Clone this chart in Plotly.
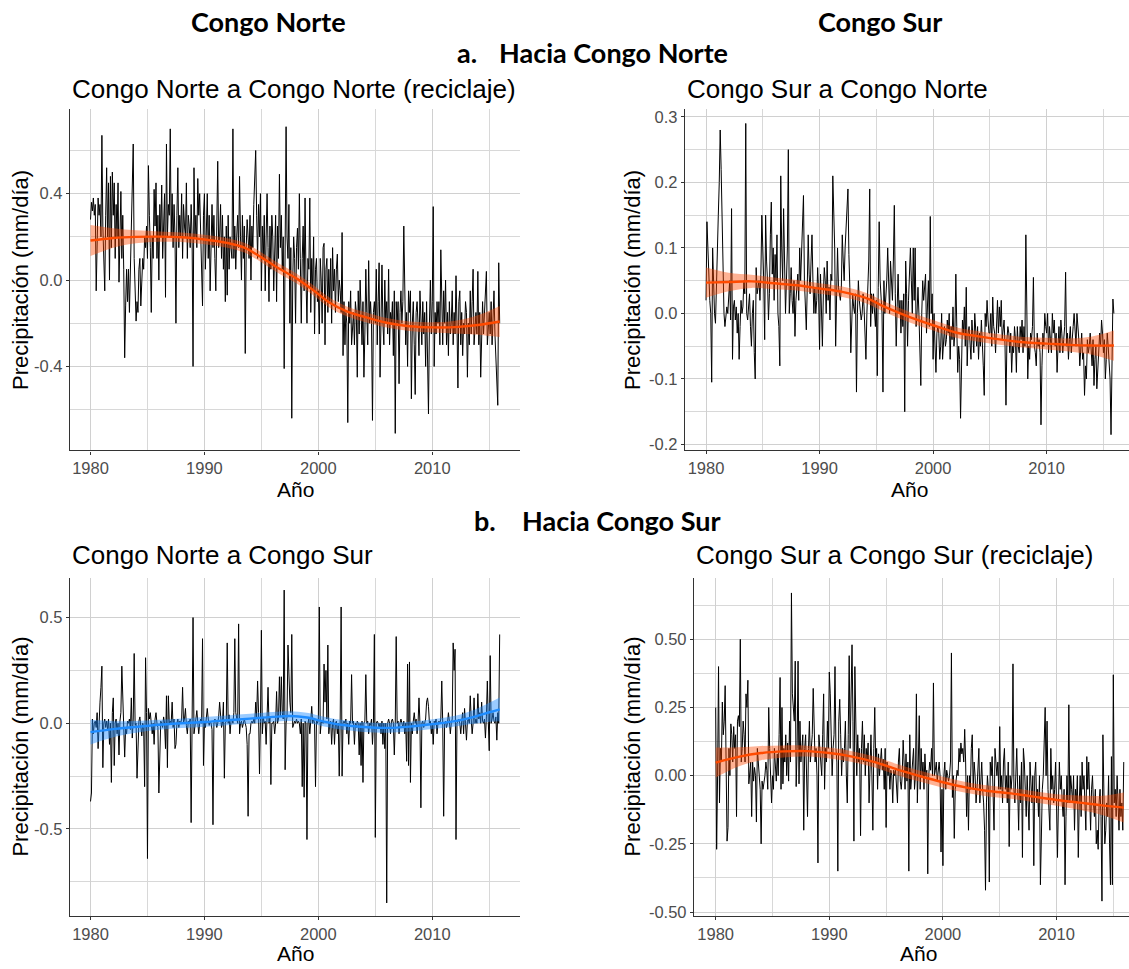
import plotly.graph_objects as go

W, H = 1129, 969

# ------------------------------------------------------------------ data
START_YEAR = 1980   # monthly series, Jan 1980 .. Dec 2015

# Congo Norte -> Congo Norte (reciclaje), mm/día anomalies, one row per year
cn_to_cn = [
    0.28, 0.36, 0.32, 0.38, 0.30, 0.35, -0.05, 0.25, 0.38, 0.30, 0.35, 0.20,
    0.67, 0.25, 0.10, -0.05, 0.30, 0.52, 0.20, 0.45, 0.00, 0.48, 0.15, 0.50,
    0.30, 0.45, 0.10, 0.35, 0.20, 0.45, -0.01, 0.25, 0.41, 0.10, 0.30, 0.05,
    -0.36, -0.12, 0.05, -0.10, 0.05, -0.15, 0.08, 0.20, 0.40, 0.63, 0.10, -0.05,
    -0.19, -0.10, -0.15, 0.05, 0.10, -0.12, 0.00, 0.10, 0.05, 0.20, 0.15, 0.25,
    0.10, 0.53, 0.30, 0.15, -0.15, 0.20, 0.10, 0.42, 0.25, 0.45, 0.10, 0.30,
    0.00, 0.35, 0.20, 0.44, 0.10, 0.30, 0.40, -0.08, 0.63, 0.20, 0.35, 0.30,
    0.70, 0.20, 0.40, 0.15, 0.35, 0.20, -0.20, 0.30, 0.52, 0.15, 0.30, 0.20,
    0.40, 0.10, 0.35, 0.25, 0.20, 0.45, 0.10, 0.30, 0.25, 0.15, 0.35, 0.20,
    -0.40, 0.52, 0.20, 0.30, 0.15, 0.47, 0.30, 0.40, 0.20, 0.10, -0.12, 0.30,
    0.40, 0.05, 0.25, 0.40, 0.10, 0.30, -0.05, 0.20, 0.35, 0.15, 0.30, 0.10,
    -0.05, 0.25, 0.55, 0.15, 0.20, 0.35, 0.10, 0.30, 0.05, 0.20, -0.10, 0.25,
    -0.07, 0.30, 0.05, 0.20, 0.15, 0.10, 0.70, 0.10, 0.25, 0.05, 0.20, 0.30,
    0.15, 0.48, 0.20, 0.00, 0.30, 0.10, 0.25, -0.34, 0.15, 0.28, 0.20, 0.10,
    0.30, 0.00, 0.25, 0.15, 0.35, 0.45, 0.60, 0.30, 0.10, 0.35, 0.20, 0.40,
    -0.05, 0.25, 0.10, 0.30, -0.05, 0.20, 0.40, 0.15, -0.10, 0.25, 0.05, 0.30,
    0.20, -0.05, 0.15, 0.30, -0.10, 0.25, 0.10, 0.49, 0.15, 0.30, 0.05, 0.20,
    -0.41, 0.20, 0.71, 0.20, 0.10, 0.35, -0.20, 0.15, -0.64, 0.00, 0.20, 0.10,
    -0.20, 0.15, 0.24, 0.05, 0.40, 0.10, -0.20, 0.10, 0.25, -0.05, 0.38, 0.00,
    -0.20, 0.10, 0.05, 0.38, -0.15, 0.10, -0.05, 0.20, -0.25, 0.05, 0.10, -0.10,
    -0.05, -0.25, 0.10, 0.00, -0.20, 0.15, 0.17, -0.30, 0.05, 0.10, -0.15, 0.05,
    -0.10, 0.10, -0.20, 0.15, -0.05, 0.05, -0.15, 0.05, 0.12, -0.10, 0.00, -0.05,
    -0.15, 0.22, -0.35, -0.10, -0.30, -0.15, -0.20, -0.66, -0.10, -0.20, -0.05, -0.30,
    -0.20, -0.15, -0.30, -0.10, -0.15, -0.45, -0.05, -0.25, 0.00, -0.20, -0.30, -0.10,
    -0.45, -0.25, 0.05, -0.15, -0.30, 0.09, -0.20, -0.10, -0.20, -0.65, -0.15, -0.10,
    -0.20, 0.05, -0.30, -0.10, 0.08, -0.45, -0.15, 0.07, -0.20, -0.30, 0.00, -0.20,
    -0.10, -0.25, 0.05, -0.30, -0.15, -0.20, -0.10, -0.35, -0.05, -0.71, -0.10, -0.20,
    -0.10, -0.48, -0.15, -0.05, -0.20, -0.10, 0.25, -0.20, -0.30, -0.15, -0.40, -0.05,
    -0.15, -0.05, -0.55, -0.20, -0.10, -0.30, -0.53, -0.15, -0.10, -0.20, -0.35, -0.05,
    -0.20, -0.30, -0.10, -0.25, -0.15, -0.40, -0.10, -0.35, -0.62, -0.20, 0.00, -0.25,
    -0.10, 0.34, -0.40, -0.15, -0.25, -0.10, -0.20, -0.10, -0.30, 0.14, -0.15, -0.30,
    -0.05, -0.20, 0.00, -0.30, -0.15, -0.35, -0.10, -0.25, -0.20, -0.05, -0.30, -0.15,
    -0.25, 0.02, -0.20, -0.50, -0.10, -0.05, -0.30, -0.15, -0.35, -0.20, -0.25, -0.10,
    -0.15, -0.45, -0.20, -0.30, -0.05, -0.25, -0.10, 0.05, -0.30, -0.20, -0.15, -0.25,
    0.04, -0.30, -0.15, -0.45, -0.20, -0.10, -0.25, -0.15, -0.10, 0.04, -0.30, -0.20,
    -0.15, -0.25, -0.10, -0.30, -0.20, -0.05, -0.25, -0.35, -0.45, -0.58, 0.08, -0.20,
]

# Congo Sur -> Congo Norte
cs_to_cn = [
    0.02, 0.14, 0.10, 0.05, 0.02, 0.00, -0.105, 0.10, 0.04, 0.00, -0.015, 0.06,
    0.10, 0.15, 0.20, 0.28, 0.22, 0.15, 0.05, 0.00, -0.02, 0.00, 0.01, 0.00,
    0.02, 0.05, -0.01, 0.16, -0.07, 0.01, 0.02, -0.01, 0.01, -0.03, 0.00, -0.07,
    -0.02, 0.02, 0.00, 0.01, 0.05, 0.03, 0.29, 0.00, -0.01, 0.02, 0.03, -0.02,
    -0.05, 0.00, 0.02, -0.06, -0.10, 0.07, 0.03, 0.04, 0.05, 0.02, 0.06, 0.15,
    0.10, 0.05, -0.04, 0.15, 0.08, 0.05, -0.01, 0.03, 0.12, 0.17, 0.06, 0.10,
    0.02, 0.09, 0.05, 0.12, 0.00, -0.02, -0.08, 0.21, 0.10, 0.05, 0.16, 0.08,
    0.00, 0.05, 0.10, 0.25, 0.00, 0.03, 0.07, 0.02, 0.00, 0.05, -0.035, 0.02,
    0.04, 0.06, 0.02, 0.10, 0.05, 0.10, 0.12, 0.18, 0.05, 0.02, -0.025, 0.04,
    0.12, 0.06, 0.03, 0.08, 0.12, 0.05, 0.00, 0.04, 0.00, 0.02, 0.07, 0.03,
    -0.055, 0.06, 0.02, -0.05, 0.03, 0.07, 0.05, 0.00, 0.08, 0.02, 0.04, -0.01,
    0.06, 0.05, 0.21, 0.17, 0.10, -0.05, 0.02, 0.10, 0.04, 0.03, 0.02, 0.04,
    0.12, 0.08, 0.05, 0.10, 0.13, 0.15, 0.19, 0.09, 0.04, -0.06, 0.00, 0.03,
    0.01, 0.00, 0.03, -0.12, 0.00, 0.05, 0.02, 0.00, -0.01, 0.00, 0.03, 0.01,
    -0.03, -0.07, 0.00, 0.05, 0.08, 0.19, -0.02, 0.03, 0.00, 0.03, 0.01, -0.02,
    0.02, -0.095, 0.04, 0.14, 0.05, 0.02, 0.00, -0.12, 0.05, 0.00, 0.02, 0.05,
    0.10, 0.04, 0.00, 0.08, 0.05, 0.02, 0.08, 0.165, 0.03, -0.05, 0.01, 0.06,
    0.00, 0.02, -0.03, 0.02, -0.02, 0.03, -0.15, 0.08, 0.03, -0.05, 0.02, 0.07,
    0.10, 0.05, 0.00, 0.10, 0.02, 0.10, -0.02, 0.00, 0.04, 0.00, -0.05, -0.11,
    0.00, 0.05, 0.02, 0.05, 0.06, -0.03, 0.03, 0.05, -0.02, 0.148, 0.00, 0.03,
    -0.07, 0.00, -0.05, -0.09, -0.03, -0.02, -0.03, -0.07, -0.05, 0.00, -0.07, -0.04,
    -0.02, -0.05, -0.04, -0.01, -0.03, 0.00, -0.07, -0.02, -0.04, 0.01, -0.05, -0.03,
    0.06, -0.02, -0.09, -0.05, -0.07, -0.16, -0.06, -0.01, -0.03, 0.01, -0.05, 0.04,
    -0.08, -0.03, -0.02, -0.05, -0.07, -0.01, -0.04, -0.06, 0.00, -0.03, -0.05, -0.02,
    -0.07, -0.03, -0.05, -0.01, -0.04, -0.08, -0.125, 0.00, -0.02, 0.02, -0.01, -0.03,
    -0.03, 0.00, -0.05, 0.025, -0.02, -0.03, -0.06, 0.00, 0.02, -0.03, 0.01, -0.02,
    0.02, -0.04, -0.02, -0.01, -0.05, -0.14, -0.04, -0.02, -0.03, -0.06, -0.03, -0.09,
    -0.05, -0.06, -0.02, -0.04, -0.09, -0.02, -0.05, -0.06, -0.02, -0.04, -0.01, -0.06,
    -0.02, -0.05, 0.12, -0.04, -0.10, -0.05, -0.07, -0.03, -0.04, -0.02, 0.055, -0.05,
    -0.06, -0.08, -0.03, -0.05, -0.04, -0.06, -0.17, -0.08, -0.03, -0.05, 0.00, -0.02,
    -0.03, 0.00, -0.06, -0.02, -0.04, -0.06, 0.00, -0.03, -0.01, -0.05, -0.03, -0.09,
    -0.05, -0.02, -0.06, -0.01, -0.03, -0.06, -0.04, -0.02, 0.063, -0.05, -0.03, -0.07,
    -0.04, -0.02, -0.06, -0.03, -0.02, 0.00, -0.03, -0.05, 0.00, -0.02, -0.04, -0.08,
    -0.05, -0.03, -0.07, -0.06, -0.125, -0.08, -0.10, -0.04, -0.06, -0.05, -0.03, -0.06,
    -0.08, -0.04, -0.11, -0.07, -0.05, -0.115, -0.09, -0.06, -0.03, -0.05, -0.01, -0.03,
    -0.06, -0.04, -0.10, -0.07, -0.03, -0.05, -0.08, -0.10, -0.185, -0.09, 0.022, 0.00,
]

# Congo Norte -> Congo Sur
cn_to_cs = [
    -0.37, -0.33, 0.02, -0.05, 0.00, 0.01, -0.02, 0.05, -0.12, 0.03, 0.10, 0.17,
    0.27, -0.21, 0.00, 0.02, -0.02, 0.01, -0.03, 0.02, -0.10, 0.00, -0.28, 0.05,
    0.12, -0.20, 0.00, 0.02, -0.05, 0.00, -0.15, 0.01, 0.05, 0.27, 0.12, 0.00,
    -0.16, -0.02, -0.05, 0.01, 0.00, 0.02, -0.03, 0.12, -0.07, 0.02, 0.33, -0.01,
    0.00, -0.26, -0.05, 0.01, 0.03, -0.02, -0.06, 0.00, -0.02, -0.30, 0.31, 0.05,
    -0.64, 0.07, 0.02, 0.05, -0.01, -0.05, 0.00, -0.10, 0.02, 0.05, 0.00, -0.02,
    -0.33, -0.05, 0.01, 0.00, -0.02, 0.03, 0.00, -0.12, 0.13, -0.21, 0.13, 0.00,
    0.01, 0.00, 0.10, -0.02, 0.02, -0.12, -0.10, 0.00, 0.02, -0.02, 0.01, 0.00,
    0.02, 0.17, 0.00, 0.02, 0.07, -0.01, -0.05, 0.01, 0.00, 0.02, -0.47, 0.00,
    0.50, -0.05, 0.00, 0.02, 0.06, 0.01, -0.05, 0.00, 0.02, 0.00, 0.40, -0.20,
    0.00, -0.02, 0.05, 0.07, 0.02, -0.01, 0.01, 0.00, -0.03, -0.48, 0.00, 0.02,
    0.01, -0.02, 0.00, 0.03, 0.10, 0.01, -0.02, 0.00, 0.10, -0.26, 0.00, 0.01,
    0.38, 0.00, 0.04, -0.05, 0.01, 0.02, 0.00, 0.05, 0.40, 0.05, 0.02, 0.00,
    0.47, -0.05, 0.00, 0.01, -0.02, 0.00, 0.02, 0.00, -0.02, -0.10, -0.44, -0.05,
    -0.05, 0.00, 0.01, 0.00, 0.02, 0.00, 0.10, 0.03, 0.20, 0.05, -0.24, 0.01,
    0.44, -0.05, 0.03, 0.00, 0.01, -0.10, 0.02, 0.17, 0.00, 0.03, -0.29, 0.00,
    0.00, 0.01, -0.05, 0.00, 0.15, 0.00, 0.02, 0.22, 0.03, 0.22, 0.05, 0.02,
    0.63, -0.22, 0.00, 0.03, 0.37, 0.20, 0.10, 0.05, 0.42, -0.02, 0.00, 0.01,
    0.00, 0.02, 0.00, 0.01, 0.00, -0.05, 0.02, -0.30, 0.00, -0.35, 0.01, 0.00,
    -0.55, 0.00, 0.02, -0.05, 0.01, 0.08, 0.00, 0.02, 0.00, -0.30, 0.01, 0.00,
    0.02, 0.55, -0.05, 0.00, 0.01, 0.00, 0.28, 0.10, 0.25, 0.02, 0.37, -0.05,
    0.00, 0.01, -0.10, 0.00, 0.02, -0.10, 0.00, 0.01, -0.05, 0.00, -0.25, 0.02,
    0.55, -0.25, 0.00, 0.01, 0.00, 0.02, -0.05, 0.00, -0.10, 0.01, 0.00, 0.23,
    0.00, 0.01, -0.10, 0.00, -0.02, 0.01, 0.00, -0.15, 0.00, -0.20, 0.01, -0.28,
    0.00, 0.01, 0.23, 0.00, 0.01, -0.05, 0.00, -0.01, 0.02, -0.10, 0.00, 0.42,
    -0.54, 0.00, 0.01, 0.00, -0.02, 0.00, -0.05, 0.01, -0.10, 0.00, -0.12, 0.00,
    -0.85, 0.00, 0.02, 0.00, -0.05, 0.01, 0.02, 0.00, -0.15, 0.00, 0.41, 0.00,
    0.01, -0.05, 0.00, 0.02, 0.00, -0.02, 0.01, -0.05, 0.00, -0.18, 0.28, -0.20,
    0.29, -0.28, 0.00, -0.05, 0.01, 0.05, 0.00, 0.02, -0.05, 0.00, 0.12, 0.00,
    -0.40, 0.00, 0.01, -0.02, 0.00, 0.02, 0.10, 0.12, 0.08, 0.00, 0.01, -0.05,
    0.00, -0.10, 0.01, 0.00, 0.02, -0.05, 0.00, 0.01, 0.00, 0.02, 0.20, 0.00,
    -0.44, 0.00, 0.01, -0.02, 0.00, 0.05, 0.01, -0.05, 0.00, 0.02, 0.38, 0.25,
    0.35, -0.55, 0.00, 0.01, 0.02, 0.00, -0.05, 0.01, 0.05, -0.05, 0.07, 0.00,
    -0.08, 0.01, 0.02, 0.00, 0.13, 0.02, -0.05, 0.00, 0.12, 0.00, 0.02, 0.00,
    0.14, 0.02, 0.05, 0.00, 0.10, 0.01, 0.00, 0.02, -0.07, 0.03, 0.20, 0.01,
    -0.13, 0.32, 0.00, 0.02, 0.05, 0.01, 0.00, 0.03, -0.08, 0.05, 0.00, 0.42,
]

# Congo Sur -> Congo Sur (reciclaje)
cs_to_cs = [
    0.25, -0.27, 0.00, 0.40, -0.10, 0.10, 0.05, 0.27, 0.15, 0.20, 0.33, 0.05,
    -0.24, -0.19, 0.10, 0.00, 0.19, 0.15, 0.05, 0.18, 0.10, 0.15, -0.15, 0.20,
    0.22, 0.18, 0.50, 0.05, 0.10, 0.20, 0.15, 0.05, 0.30, 0.25, 0.35, -0.03,
    0.00, 0.05, -0.15, 0.05, -0.02, 0.03, 0.00, -0.17, 0.10, 0.05, 0.02, -0.05,
    -0.25, -0.02, -0.05, -0.03, 0.00, 0.05, 0.02, -0.05, 0.25, 0.10, -0.05, -0.10,
    0.00, -0.05, 0.10, 0.05, -0.02, 0.08, 0.00, 0.15, 0.36, -0.05, 0.25, -0.03,
    0.10, 0.05, 0.15, 0.00, 0.12, -0.02, 0.20, 0.05, 0.67, 0.30, 0.25, 0.20,
    0.42, -0.04, 0.10, 0.42, -0.03, 0.20, 0.05, 0.10, 0.15, -0.20, 0.10, 0.15,
    0.00, -0.15, 0.10, 0.20, 0.05, 0.10, 0.15, 0.32, 0.15, 0.05, 0.10, 0.00,
    -0.32, 0.15, 0.10, 0.05, 0.00, 0.15, 0.30, -0.05, 0.10, 0.05, 0.20, 0.10,
    0.38, 0.30, 0.15, 0.00, 0.10, 0.15, 0.40, 0.10, 0.05, -0.35, 0.20, 0.28,
    0.15, 0.00, 0.10, 0.05, 0.10, 0.20, 0.00, -0.10, 0.15, 0.44, 0.10, 0.30,
    0.48, 0.20, -0.24, 0.40, 0.20, 0.00, 0.15, 0.05, 0.10, -0.22, 0.10, 0.20,
    0.05, 0.15, 0.00, 0.10, 0.05, 0.12, -0.10, 0.05, 0.15, 0.00, -0.20, 0.10,
    0.25, 0.05, 0.10, -0.05, 0.08, 0.00, 0.05, 0.10, 0.02, 0.06, -0.05, 0.10,
    -0.19, 0.05, 0.00, 0.03, -0.05, 0.02, 0.00, -0.10, 0.02, 0.00, 0.02, -0.05,
    -0.10, 0.05, 0.10, -0.02, -0.05, 0.00, 0.13, 0.05, -0.05, 0.08, -0.02, 0.05,
    -0.35, 0.15, -0.05, 0.00, 0.05, 0.10, -0.05, 0.00, 0.30, -0.10, 0.05, 0.22,
    -0.05, 0.10, 0.00, 0.05, -0.05, 0.08, 0.00, 0.02, -0.36, 0.00, 0.05, 0.02,
    0.10, 0.00, 0.34, 0.00, 0.02, 0.05, -0.02, 0.03, 0.05, 0.00, -0.28, -0.05,
    -0.33, 0.00, 0.05, -0.05, 0.02, 0.00, -0.02, 0.00, 0.05, 0.45, -0.08, 0.00,
    -0.23, -0.05, 0.00, 0.02, 0.00, 0.10, 0.05, 0.12, 0.08, 0.10, 0.05, 0.17,
    0.05, -0.15, 0.00, -0.20, 0.00, -0.05, 0.10, 0.15, -0.05, 0.05, 0.00, -0.10,
    -0.05, 0.02, 0.10, -0.10, 0.00, 0.05, -0.05, -0.10, -0.20, -0.42, -0.10, 0.00,
    -0.05, -0.39, 0.05, 0.00, 0.07, -0.10, -0.20, 0.10, 0.05, 0.00, 0.05, -0.05,
    0.18, -0.05, 0.00, -0.10, 0.05, 0.10, -0.05, 0.00, -0.10, 0.05, -0.26, 0.00,
    -0.05, 0.00, 0.41, -0.05, -0.10, 0.05, 0.10, -0.05, -0.20, 0.00, -0.10, 0.05,
    -0.30, 0.10, 0.05, -0.05, -0.15, 0.00, -0.10, -0.20, 0.05, -0.05, -0.10, 0.00,
    -0.33, 0.00, 0.05, -0.10, -0.05, -0.15, 0.00, -0.40, -0.20, -0.05, 0.00, 0.10,
    0.25, 0.00, 0.20, -0.05, -0.15, -0.20, 0.10, -0.05, 0.00, -0.10, -0.05, 0.05,
    -0.10, -0.30, -0.10, 0.05, -0.05, 0.00, -0.10, -0.15, -0.05, -0.40, -0.15, 0.00,
    -0.10, 0.26, -0.10, 0.00, -0.05, -0.10, 0.00, -0.20, -0.05, -0.10, 0.00, -0.30,
    -0.10, 0.00, -0.15, 0.05, -0.05, 0.00, -0.10, -0.20, 0.07, -0.05, 0.05, -0.15,
    -0.20, -0.05, 0.00, -0.10, -0.15, -0.05, -0.25, -0.20, -0.27, -0.10, -0.05, -0.15,
    -0.46, 0.15, -0.05, -0.25, -0.20, -0.10, -0.15, 0.00, -0.25, -0.40, 0.07, -0.40,
    0.37, -0.10, -0.05, -0.15, 0.00, -0.10, -0.20, -0.05, -0.15, -0.10, -0.20, 0.05,
]

# loess trend and 95% band half-width
cn_cn_fit_x = [1980, 1982, 1984, 1986, 1988, 1990, 1992, 1993.5, 1995, 1996.5, 1998, 1999.5,
               2001, 2002.5, 2004, 2006, 2008, 2010, 2012, 2014, 2015.92]
cn_cn_fit = [0.183, 0.195, 0.200, 0.201, 0.198, 0.188, 0.172, 0.150, 0.105, 0.055, 0.010, -0.045,
             -0.105, -0.145, -0.170, -0.198, -0.214, -0.219, -0.218, -0.208, -0.192]
cn_cn_se = [0.072, 0.045, 0.030, 0.024, 0.022, 0.022, 0.022, 0.023, 0.023, 0.023, 0.023, 0.023,
            0.023, 0.023, 0.023, 0.022, 0.022, 0.024, 0.030, 0.045, 0.072]

cs_cn_fit_x = [1980, 1982, 1984, 1986, 1988, 1990, 1992, 1994, 1996, 1998, 2000, 2002,
               2004, 2006, 2008, 2010, 2012, 2014, 2015.92]
cs_cn_fit = [0.047, 0.048, 0.049, 0.046, 0.043, 0.038, 0.033, 0.024, 0.008, -0.006, -0.018, -0.029,
             -0.035, -0.040, -0.044, -0.046, -0.048, -0.049, -0.049]
cs_cn_se = [0.023, 0.014, 0.010, 0.009, 0.008, 0.008, 0.008, 0.008, 0.008, 0.008, 0.008, 0.008,
            0.008, 0.008, 0.008, 0.009, 0.010, 0.014, 0.023]

cn_cs_fit_x = [1980, 1982, 1984, 1986, 1988, 1990, 1992, 1994, 1996, 1997.5, 1999, 2000.5,
               2002, 2004, 2006, 2008, 2010, 2012, 2013.5, 2015, 2015.92]
cn_cs_fit = [-0.042, -0.028, -0.017, -0.007, 0.000, 0.006, 0.014, 0.022, 0.030, 0.034, 0.027, 0.008,
             -0.007, -0.018, -0.022, -0.016, -0.004, 0.010, 0.028, 0.052, 0.066]
cn_cs_se = [0.058, 0.038, 0.028, 0.024, 0.023, 0.023, 0.023, 0.023, 0.023, 0.023, 0.023, 0.023,
            0.023, 0.023, 0.023, 0.023, 0.023, 0.025, 0.032, 0.045, 0.056]

cs_cs_fit_x = [1980, 1982, 1984, 1986, 1988, 1990, 1992, 1994, 1996, 1998, 2000, 2002,
               2004, 2006, 2008, 2010, 2012, 2014, 2015.92]
cs_cs_fit = [0.048, 0.069, 0.083, 0.089, 0.090, 0.083, 0.070, 0.050, 0.022, -0.002, -0.024, -0.043,
             -0.056, -0.065, -0.077, -0.089, -0.099, -0.109, -0.117]
cs_cs_se = [0.055, 0.035, 0.026, 0.022, 0.020, 0.020, 0.020, 0.020, 0.020, 0.020, 0.020, 0.020,
            0.020, 0.020, 0.020, 0.021, 0.026, 0.035, 0.055]

x_tick_vals = [1980, 1990, 2000, 2010]
x_tick_text = ["1980", "1990", "2000", "2010"]
p1_tick_vals = [-0.4, 0.0, 0.4]
p1_tick_text = ["-0.4", "0.0", "0.4"]
p2_tick_vals = [-0.2, -0.1, 0.0, 0.1, 0.2, 0.3]
p2_tick_text = ["-0.2", "-0.1", "0.0", "0.1", "0.2", "0.3"]
p3_tick_vals = [-0.5, 0.0, 0.5]
p3_tick_text = ["-0.5", "0.0", "0.5"]
p4_tick_vals = [-0.50, -0.25, 0.00, 0.25, 0.50]
p4_tick_text = ["-0.50", "-0.25", "0.00", "0.25", "0.50"]

titles = ["Congo Norte a Congo Norte (reciclaje)", "Congo Sur a Congo Norte",
          "Congo Norte a Congo Sur", "Congo Sur a Congo Sur (reciclaje)"]

# ------------------------------------------------------------------ style
ORANGE = "#FF4A00"
ORANGE_BAND = "rgba(255,72,0,0.42)"
BLUE = "#1E8CFF"
BLUE_BAND = "rgba(30,140,255,0.45)"
AXIS_COL = "#333333"
GRID_MAJOR = "#d0d0d0"
GRID_MINOR = "#d8d8d8"
TICK_COL = "#4d4d4d"
SANS = "Liberation Sans, Arial, sans-serif"
HEAD = "Lato, Open Sans, sans-serif"

assert all(len(s) == 432 for s in (cn_to_cn, cs_to_cn, cn_to_cs, cs_to_cs))
months = [START_YEAR + i / 12 for i in range(len(cn_to_cn))]


def px(x):
    return x / W


def py(y):
    return 1 - y / H


panels = [
    dict(series=cn_to_cn, fx=cn_cn_fit_x, fit=cn_cn_fit, se=cn_cn_se, col=ORANGE, band=ORANGE_BAND,
         xdom=(70, 520), ydom=(108, 451.7), xr=(1978.2, 2017.7), yr=(-0.789, 0.791),
         tv=p1_tick_vals, tt=p1_tick_text, minor=0.2,
         title_xy=(70, 88), ytitle_xy=(21, 280), xtitle_xy=(295, 491)),
    dict(series=cs_to_cn, fx=cs_cn_fit_x, fit=cs_cn_fit, se=cs_cn_se, col=ORANGE, band=ORANGE_BAND,
         xdom=(685, 1129), ydom=(108, 451), xr=(1978.15, 2017.25), yr=(-0.208, 0.3117),
         tv=p2_tick_vals, tt=p2_tick_text, minor=0.05,
         title_xy=(685, 88), ytitle_xy=(633, 280), xtitle_xy=(909, 491)),
    dict(series=cn_to_cs, fx=cn_cs_fit_x, fit=cn_cs_fit, se=cn_cs_se, col=BLUE, band=BLUE_BAND,
         xdom=(70, 520), ydom=(580, 920.7), xr=(1978.2, 2017.7), yr=(-0.912, 0.688),
         tv=p3_tick_vals, tt=p3_tick_text, minor=0.25,
         title_xy=(70, 557), ytitle_xy=(21, 750), xtitle_xy=(295, 958)),
    dict(series=cs_to_cs, fx=cs_cs_fit_x, fit=cs_cs_fit, se=cs_cs_se, col=ORANGE, band=ORANGE_BAND,
         xdom=(694, 1129), ydom=(580, 920.7), xr=(1978.09, 2016.38), yr=(-0.5147, 0.7255),
         tv=p4_tick_vals, tt=p4_tick_text, minor=0.125,
         title_xy=(694, 557), ytitle_xy=(633, 750), xtitle_xy=(919, 958)),
]

fig = go.Figure()
layout = dict(width=W, height=H, margin=dict(l=0, r=0, t=0, b=0),
              paper_bgcolor="white", plot_bgcolor="white", showlegend=False)
annotations = []

for k, p in enumerate(panels, start=1):
    xa = "x" if k == 1 else f"x{k}"
    ya = "y" if k == 1 else f"y{k}"
    lower = [f - s for f, s in zip(p["fit"], p["se"])]
    upper = [f + s for f, s in zip(p["fit"], p["se"])]
    fig.add_trace(go.Scatter(x=months, y=p["series"], mode="lines", xaxis=xa, yaxis=ya,
                             line=dict(color="black", width=1.0), hoverinfo="skip"))
    fig.add_trace(go.Scatter(x=p["fx"], y=lower, mode="lines", xaxis=xa, yaxis=ya,
                             line=dict(width=0, shape="spline", color=p["band"]), hoverinfo="skip"))
    fig.add_trace(go.Scatter(x=p["fx"], y=upper, mode="lines", xaxis=xa, yaxis=ya, fill="tonexty",
                             fillcolor=p["band"], line=dict(width=0, shape="spline", color=p["band"]),
                             hoverinfo="skip"))
    fig.add_trace(go.Scatter(x=p["fx"], y=p["fit"], mode="lines", xaxis=xa, yaxis=ya,
                             line=dict(color=p["col"], width=2.4, shape="spline"), hoverinfo="skip"))

    xkey = "xaxis" if k == 1 else f"xaxis{k}"
    ykey = "yaxis" if k == 1 else f"yaxis{k}"
    layout[xkey] = dict(
        domain=[px(p["xdom"][0]), px(p["xdom"][1])], range=list(p["xr"]), anchor=ya,
        tickmode="array", tickvals=x_tick_vals, ticktext=x_tick_text,
        showgrid=True, gridcolor=GRID_MAJOR, gridwidth=1.1, zeroline=False,
        showline=True, linecolor=AXIS_COL, linewidth=1.3,
        ticks="outside", ticklen=3, tickwidth=1, tickcolor=AXIS_COL,
        tickfont=dict(family=SANS, size=16.5, color=TICK_COL),
        minor=dict(tickmode="linear", tick0=1980, dtick=5, showgrid=True,
                   gridcolor=GRID_MINOR, gridwidth=1, ticks=""),
    )
    layout[ykey] = dict(
        domain=[py(p["ydom"][1]), py(p["ydom"][0])], range=list(p["yr"]), anchor=xa,
        tickmode="array", tickvals=p["tv"], ticktext=p["tt"],
        showgrid=True, gridcolor=GRID_MAJOR, gridwidth=1.1, zeroline=False,
        showline=True, linecolor=AXIS_COL, linewidth=1.3,
        ticks="outside", ticklen=3, tickwidth=1, tickcolor=AXIS_COL,
        tickfont=dict(family=SANS, size=16.5, color=TICK_COL),
        minor=dict(tickmode="linear", tick0=0, dtick=p["minor"], showgrid=True,
                   gridcolor=GRID_MINOR, gridwidth=1, ticks=""),
    )
    tx, ty = p["title_xy"]
    annotations.append(dict(text=titles[k - 1], x=px(tx), y=py(ty), xref="paper", yref="paper",
                            xanchor="left", yanchor="middle", showarrow=False,
                            font=dict(family=SANS, size=26, color="black")))
    yx, yy = p["ytitle_xy"]
    annotations.append(dict(text="Precipitación (mm/día)", x=px(yx), y=py(yy), xref="paper",
                            yref="paper", xanchor="center", yanchor="middle", textangle=-90,
                            showarrow=False, font=dict(family=SANS, size=22, color="black")))
    ax_, ay_ = p["xtitle_xy"]
    annotations.append(dict(text="Año", x=px(ax_), y=py(ay_), xref="paper", yref="paper",
                            xanchor="center", yanchor="middle", showarrow=False,
                            font=dict(family=SANS, size=21, color="black")))

headers = [
    ("Congo Norte", 268, 20, "center"),
    ("Congo Sur", 880, 20, "center"),
    ("a.", 455, 51, "left"),
    ("Hacia Congo Norte", 497, 51, "left"),
    ("b.", 472, 522, "left"),
    ("Hacia Congo Sur", 520, 522, "left"),
]
for text, hx, hy, anc in headers:
    annotations.append(dict(text=f"<b>{text}</b>", x=px(hx), y=py(hy), xref="paper", yref="paper",
                            xanchor=anc, yanchor="middle", showarrow=False,
                            font=dict(family=HEAD, size=27, color="black")))

layout["annotations"] = annotations
fig.update_layout(**layout)
fig.write_html("out.html")
